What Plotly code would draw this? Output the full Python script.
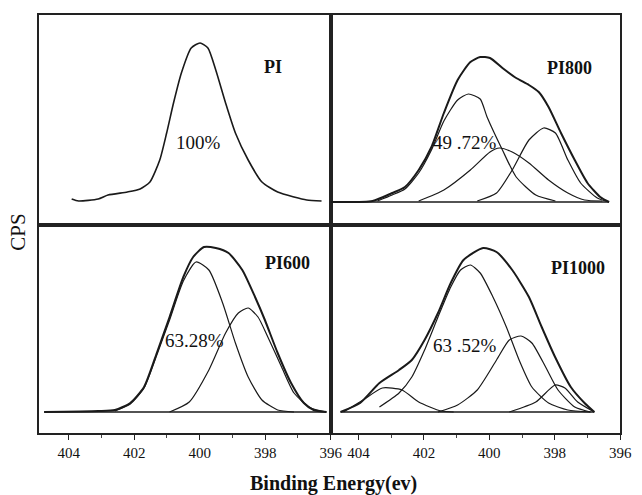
import plotly.graph_objects as go

# ---- data (binding energy eV, CPS arbitrary units) ----
PI_E = [403.91, 403.70, 403.10, 402.80, 402.21, 401.82, 401.52, 401.22, 401.01, 400.80, 400.56, 400.26,
        399.99, 399.75, 399.51, 399.21, 398.91, 398.52, 398.10, 397.62, 397.12, 396.73, 396.28]
PI_Y = [26, 24, 26, 30, 33, 36, 43, 65, 92, 122, 152, 177, 182, 177, 155, 122, 92, 65, 43, 33, 28, 25, 24]

PI800_env_E = [404.85, 403.57, 402.97, 402.58, 402.16, 401.77, 401.39, 400.97, 400.58, 400.28, 399.98, 399.60,
               399.18, 398.79, 398.49, 398.19, 397.81, 397.39, 397.00, 396.61, 396.34]
PI800_env_Y = [23, 24, 32, 38, 55, 78, 112, 145, 163, 168, 167, 157, 147, 140, 133, 118, 92, 65, 42, 28, 23]
PI800_c1_E = [403.42, 402.97, 402.58, 402.16, 401.77, 401.39, 400.97, 400.64, 400.28, 400.07, 399.60, 399.18, 398.58, 397.98]
PI800_c1_Y = [24, 30, 36, 52, 75, 104, 125, 131, 126, 108, 75, 48, 30, 24]
PI800_c2_E = [402.16, 401.39, 400.58, 399.98, 399.69, 399.30, 398.79, 398.19, 397.60, 397.09, 396.55]
PI800_c2_Y = [24, 35, 55, 73, 77, 73, 62, 45, 32, 25, 24]
PI800_c3_E = [400.37, 399.78, 399.30, 398.79, 398.34, 397.98, 397.60, 397.21, 396.70, 396.34]
PI800_c3_Y = [24, 32, 55, 85, 97, 92, 65, 42, 27, 23]
PI800_base_E = [404.85, 396.34]
PI800_base_Y = [23, 23]

PI600_env_E = [404.75, 403.10, 402.59, 402.12, 401.70, 401.31, 400.92, 400.50, 400.20, 399.87, 399.51, 399.12,
               398.70, 398.31, 398.01, 397.62, 397.21, 396.82, 396.52, 396.13]
PI600_env_Y = [21, 22, 23, 30, 46, 80, 116, 156, 176, 186, 185, 180, 163, 136, 113, 80, 50, 30, 23, 21]
PI600_c1_E = [402.59, 402.12, 401.70, 401.31, 400.92, 400.50, 400.11, 399.72, 399.30, 398.91, 398.52, 398.10, 397.62, 397.12]
PI600_c1_Y = [22, 29, 45, 78, 113, 152, 171, 163, 130, 90, 56, 33, 23, 21]
PI600_c2_E = [400.92, 400.32, 399.72, 399.21, 398.82, 398.52, 398.22, 397.92, 397.50, 397.12, 396.61, 396.13]
PI600_c2_Y = [21, 31, 63, 100, 120, 125, 116, 96, 66, 40, 25, 21]
PI600_base_E = [404.75, 396.13]
PI600_base_Y = [21, 21]

PI1000_env_E = [404.55, 403.95, 403.36, 402.76, 402.37, 401.98, 401.57, 401.18, 400.79, 400.19, 399.78, 399.30,
                398.79, 398.40, 397.99, 397.51, 397.09, 396.79]
PI1000_env_Y = [21, 30, 50, 63, 73, 93, 120, 150, 173, 185, 181, 163, 136, 106, 76, 46, 30, 21]
PI1000_c1_E = [403.36, 402.76, 402.37, 401.98, 401.57, 401.18, 400.88, 400.58, 400.28, 399.89, 399.48, 399.09,
               398.70, 398.19, 397.60, 396.91]
PI1000_c1_Y = [26, 40, 56, 83, 116, 146, 163, 168, 160, 136, 106, 73, 46, 30, 23, 21]
PI1000_c2_E = [401.57, 400.97, 400.37, 399.78, 399.39, 399.03, 398.70, 398.28, 397.90, 397.39, 396.91]
PI1000_c2_Y = [21, 28, 43, 73, 93, 97, 90, 66, 43, 26, 21]
PI1000_c3_E = [399.39, 398.58, 397.99, 397.69, 397.30, 396.79]
PI1000_c3_Y = [21, 31, 48, 45, 31, 21]
PI1000_c4_E = [404.46, 403.86, 403.27, 402.67, 402.16, 401.48, 401.09]
PI1000_c4_Y = [21, 33, 45, 43, 31, 22, 21]
PI1000_base_E = [404.55, 396.79]
PI1000_base_Y = [21, 21]

TICKS = [404, 402, 400, 398, 396]
TICK_TEXT = ["404", "402", "400", "398", "396"]

panel_labels = [("PI", 397.77, 158, "100%", 400.05, 83),
                ("PI800", 397.54, 157, "49 .72%", 400.73, 83),
                ("PI600", 397.33, 170, "63.28%", 400.17, 93),
                ("PI1000", 397.30, 165, "63 .52%", 400.73, 88)]

FONT = "Liberation Serif"
INK = "#1a1a1a"
fig = go.Figure()

def add(E, Y, ax, width):
    fig.add_trace(go.Scatter(x=E, y=Y, mode="lines", xaxis="x" + ax, yaxis="y" + ax,
                             line=dict(color=INK, width=width, shape="spline", smoothing=0.6),
                             showlegend=False, hoverinfo="skip"))

add(PI_E, PI_Y, "", 1.6)
add(PI800_base_E, PI800_base_Y, "2", 1.3)
add(PI800_c1_E, PI800_c1_Y, "2", 1.2)
add(PI800_c2_E, PI800_c2_Y, "2", 1.2)
add(PI800_c3_E, PI800_c3_Y, "2", 1.2)
add(PI800_env_E, PI800_env_Y, "2", 2.0)
add(PI600_base_E, PI600_base_Y, "3", 1.3)
add(PI600_c1_E, PI600_c1_Y, "3", 1.2)
add(PI600_c2_E, PI600_c2_Y, "3", 1.2)
add(PI600_env_E, PI600_env_Y, "3", 2.0)
add(PI1000_base_E, PI1000_base_Y, "4", 1.3)
add(PI1000_c1_E, PI1000_c1_Y, "4", 1.2)
add(PI1000_c2_E, PI1000_c2_Y, "4", 1.2)
add(PI1000_c3_E, PI1000_c3_Y, "4", 1.2)
add(PI1000_c4_E, PI1000_c4_Y, "4", 1.2)
add(PI1000_env_E, PI1000_env_Y, "4", 2.0)

W, H = 642, 495
def px(x):
    return x / W
def py(y):
    return 1 - y / H

xl = [px(40), px(337)]
xr = [px(337), px(632)]
yt = [py(225), py(15)]
yb = [py(433), py(225)]

def xax(dom, rng, anchor, ticks):
    d = dict(domain=dom, range=rng, anchor=anchor, showgrid=False, zeroline=False,
             showline=True, linecolor="#222", linewidth=1.6, mirror=True)
    if ticks:
        d.update(tickmode="array", tickvals=TICKS, ticktext=TICK_TEXT, ticks="outside",
                 ticklen=5, tickcolor="#222", tickwidth=1.2,
                 tickfont=dict(family=FONT, size=15, color="#111"),
                 minor=dict(dtick=1, ticks="outside", ticklen=3, tickcolor="#444"))
    else:
        d.update(showticklabels=False, ticks="")
    return d

def yax(dom, rng, anchor):
    return dict(domain=dom, range=rng, anchor=anchor, showgrid=False, zeroline=False,
                showline=True, linecolor="#222", linewidth=1.6, mirror=True,
                showticklabels=False, ticks="")

fig.update_layout(
    width=W, height=H, margin=dict(l=0, r=0, t=0, b=0),
    plot_bgcolor="white", paper_bgcolor="white",
    xaxis=xax(xl, [404.9, 396], "y", False), yaxis=yax(yt, [0, 210], "x"),
    xaxis2=xax(xr, [404.85, 396], "y2", False), yaxis2=yax(yt, [0, 210], "x2"),
    xaxis3=xax(xl, [404.9, 396], "y3", True), yaxis3=yax(yb, [0, 208], "x3"),
    xaxis4=xax(xr, [404.85, 396], "y4", True), yaxis4=yax(yb, [0, 208], "x4"),
)

anns = []
for i, (lab, lx, ly, pct, ppx, ppy) in enumerate(panel_labels):
    s = "" if i == 0 else str(i + 1)
    anns.append(dict(x=lx, y=ly, xref="x" + s, yref="y" + s, text="<b>" + lab + "</b>", showarrow=False,
                     xanchor="center", yanchor="middle",
                     font=dict(family=FONT, size=18, color="#111")))
    anns.append(dict(x=ppx, y=ppy, xref="x" + s, yref="y" + s, text=pct, showarrow=False,
                     xanchor="center", yanchor="middle",
                     font=dict(family=FONT, size=19, color="#111")))
anns.append(dict(x=px(340), y=py(483), xref="paper", yref="paper", text="<b>Binding Energy(ev)</b>",
                 xanchor="center", yanchor="middle",
                 showarrow=False, font=dict(family=FONT, size=20, color="#111")))
anns.append(dict(x=px(18), y=py(232), xref="paper", yref="paper", text="CPS", textangle=-90,
                 xanchor="center", yanchor="middle",
                 showarrow=False, font=dict(family=FONT, size=21, color="#111")))
fig.update_layout(annotations=anns)

fig.write_html("out.html", config={"displayModeBar": False},
               post_script="document.body.style.margin='0px';")
